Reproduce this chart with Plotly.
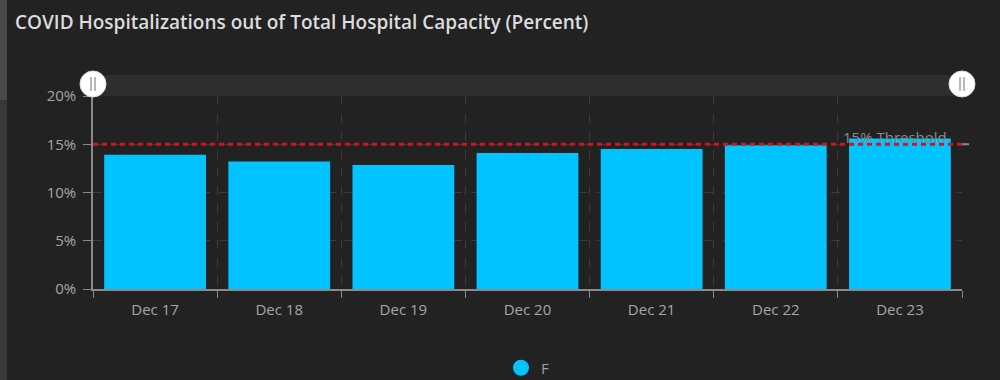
import plotly.graph_objects as go

categories = ["Dec 17", "Dec 18", "Dec 19", "Dec 20", "Dec 21", "Dec 22", "Dec 23"]
values = [13.9, 13.2, 12.85, 14.1, 14.5, 14.9, 15.6]
series_name = "F"
threshold = 15
threshold_label = "15% Threshold"
title_text = "COVID Hospitalizations out of Total Hospital Capacity (Percent)"

W, H = 1000, 380
L, R, T, B = 93, 38, 96, 91
pw, ph = W - L - R, H - T - B

def py(p):  # pixel y -> paper
    return (H - B - p) / ph

def px(p):  # pixel x -> paper
    return (p - L) / pw

FONT = "'Open Sans', Lato, sans-serif"
TICKC = "#a6a6a6"
GRID = "#3c3c3c"

fig = go.Figure()
fig.add_trace(go.Bar(x=categories, y=values, marker=dict(color="#00c3ff", line_width=0),
                     name=series_name, showlegend=False))
fig.add_trace(go.Scatter(x=[None], y=[None], mode="markers", name=series_name,
                         marker=dict(color="#00c3ff", size=22, symbol="circle"), showlegend=True))

shapes = [
    # left scroll strip
    dict(type="rect", xref="paper", yref="paper", x0=px(0), x1=px(7), y0=py(380), y1=py(0),
         fillcolor="#383838", line_width=0, layer="below"),
    dict(type="rect", xref="paper", yref="paper", x0=px(0), x1=px(7), y0=py(100), y1=py(0),
         fillcolor="#4a4a4a", line_width=0, layer="below"),
    # top slider band
    dict(type="rect", xref="paper", yref="paper", x0=0, x1=1, y0=py(96), y1=py(75),
         fillcolor="#2e2e2e", line_width=0, layer="below"),
    # threshold line
    dict(type="line", xref="paper", yref="y", x0=0, x1=1, y0=threshold, y1=threshold,
         line=dict(color="#d0161e", width=3, dash="5px,4px")),
    dict(type="line", xref="paper", yref="y", x0=1, x1=px(969), y0=threshold, y1=threshold,
         line=dict(color="#8a8a8a", width=2)),
]
for hx in (93, 962):
    shapes.append(dict(type="circle", xref="paper", yref="paper", xsizemode="pixel", ysizemode="pixel",
                       xanchor=px(hx), yanchor=py(84), x0=-13, x1=13, y0=-13, y1=13,
                       fillcolor="#ffffff", line=dict(color="#dddddd", width=1)))
    for dx in (-2, 2):
        shapes.append(dict(type="line", xref="paper", yref="paper", x0=px(hx + dx), x1=px(hx + dx),
                           y0=py(91), y1=py(77), line=dict(color="#888888", width=1.2)))

annotations = [
    dict(text=threshold_label, xref="paper", yref="y", x=px(949), y=threshold, xanchor="right",
         yanchor="bottom", yshift=-5, showarrow=False, font=dict(family=FONT, size=15, color="#8c8c8c")),
]

fig.update_layout(
    width=W, height=H,
    margin=dict(l=L, r=R, t=T, b=B, autoexpand=False),
    paper_bgcolor="#222222", plot_bgcolor="#222222",
    title=dict(text=title_text, x=15 / W, xanchor="left", xref="container",
               y=1 - 22 / H, yanchor="middle", yref="container",
               font=dict(family=FONT, size=19, color="#dcdcdc", weight=600)),
    bargap=0.18,
    shapes=shapes, annotations=annotations,
    legend=dict(orientation="h", x=0.5, xanchor="center", y=py(368), yanchor="middle",
                font=dict(family=FONT, size=15, color="#a0a0a0"), bgcolor="rgba(0,0,0,0)",
                itemsizing="trace"),
    font=dict(family=FONT),
)
fig.update_xaxes(type="category", range=[-0.5, 6.5], tickson="boundaries",
                 showgrid=True, gridcolor=GRID, griddash="dash", gridwidth=1,
                 showline=True, linecolor="#8a8a8a", linewidth=1.5,
                 ticks="outside", ticklen=7, tickcolor="#8a8a8a", ticklabelstandoff=6,
                 tickfont=dict(family=FONT, size=15, color=TICKC), zeroline=False)
fig.update_yaxes(range=[0, 20], dtick=5, ticksuffix="%",
                 showgrid=True, gridcolor=GRID, griddash="dash", gridwidth=1,
                 showline=True, linecolor="#8a8a8a", linewidth=1.5,
                 ticks="outside", ticklen=8, tickcolor="#8a8a8a", ticklabelstandoff=4,
                 tickfont=dict(family=FONT, size=15, color=TICKC), zeroline=False)

fig.write_html("out.html", config={"displayModeBar": False},
               post_script="document.body.style.margin='0';document.body.style.background='#222222';")
